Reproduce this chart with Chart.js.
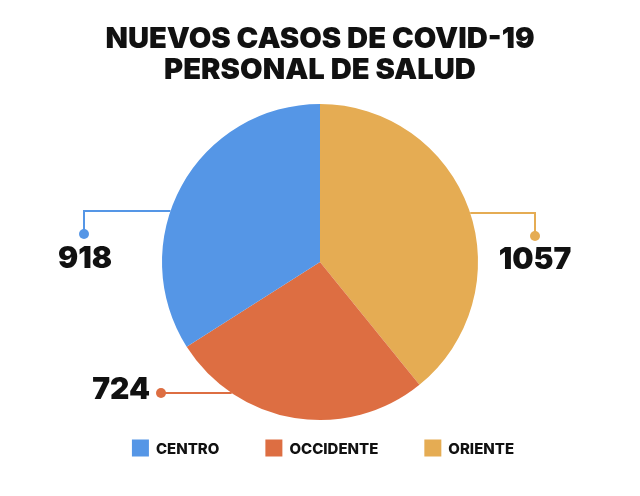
<!DOCTYPE html>
<html>
<head>
<meta charset="utf-8">
<script src="https://cdn.jsdelivr.net/npm/chart.js@4/dist/chart.umd.min.js"></script>
<style>
  html, body { margin: 0; padding: 0; background: #fff; }
  #wrap { width: 640px; height: 496px; position: relative; }
</style>
</head>
<body>
<div id="wrap"><canvas id="pieChart"></canvas></div>
<script>
// data
const titleLines = ["NUEVOS CASOS DE COVID-19", "PERSONAL DE SALUD"];
const regions = ["CENTRO", "OCCIDENTE", "ORIENTE"];
const cases = [918, 724, 1057];
const colors = ["#5596E6", "#DD6E42", "#E5AC53"];

// draw order around the pie: oriente first from 12 o'clock, clockwise
const order = [2, 1, 0];

const heavy = "'Inter', 'Lato', 'DejaVu Sans', sans-serif";

// leader line setup per region: y offset from pie centre, side, elbow x, dot y, label box
const leaders = {
    0: { dy: -51, side: "left", elbowX: 84, dotY: 234, labelX: 85, labelY: 259, align: "center" },
    1: { dy: 131, side: "left", elbowX: 161, dotY: 393, labelX: 150, labelY: 390, align: "right" },
    2: { dy: -49, side: "right", elbowX: 535, dotY: 236, labelX: 535, labelY: 260, align: "center" }
};

const overlay = {
    id: "overlay",
    afterDraw(chart) {
        const c = chart.ctx;
        const meta = chart.getDatasetMeta(0);
        const arc = meta.data[0];
        const cx = arc.x, cy = arc.y, r = arc.outerRadius;

        // title
        c.save();
        c.fillStyle = "#111";
        c.textAlign = "center";
        c.textBaseline = "alphabetic";
        c.font = "900 29px " + heavy;
        let w = c.measureText(titleLines[0]).width;
        let size = 29 * 430 / w;
        c.font = "900 " + size.toFixed(1) + "px " + heavy;
        c.fillText(titleLines[0], 320, 48);
        c.fillText(titleLines[1], 320, 79);
        c.restore();

        // leader lines + value labels
        meta.data.forEach((el, i) => {
            const idx = order[i];
            const L = leaders[idx];
            const y = cy + L.dy;
            const half = Math.sqrt(r * r - L.dy * L.dy);
            const edgeX = L.side === "left" ? cx - half : cx + half;
            c.save();
            c.strokeStyle = colors[idx];
            c.fillStyle = colors[idx];
            c.lineWidth = 2;
            c.beginPath();
            c.moveTo(edgeX, y);
            c.lineTo(L.elbowX, y);
            c.lineTo(L.elbowX, L.dotY);
            c.stroke();
            c.beginPath();
            c.arc(L.elbowX, L.dotY, 5, 0, Math.PI * 2);
            c.fill();

            c.fillStyle = "#111";
            c.font = "900 30px " + heavy;
            c.textAlign = L.align;
            c.textBaseline = "middle";
            c.fillText(String(cases[idx]), L.labelX, L.labelY);
            c.restore();
        });

        // legend
        c.save();
        c.font = "800 15px " + heavy;
        c.textBaseline = "middle";
        c.textAlign = "left";
        const box = 17, gapText = 7, gapItem = 46;
        const widths = regions.map(t => c.measureText(t).width);
        let total = widths.reduce((a, b) => a + b, 0) + regions.length * (box + gapText) + gapItem * (regions.length - 1);
        let x = 323 - total / 2;
        const ly = 448;
        regions.forEach((t, i) => {
            c.fillStyle = colors[i];
            c.fillRect(x, ly - box / 2, box, box);
            c.fillStyle = "#111";
            c.fillText(t, x + box + gapText, ly + 1);
            x += box + gapText + widths[i] + gapItem;
        });
        c.restore();
    }
};

const ctx = document.getElementById("pieChart").getContext("2d");
const chart = new Chart(ctx, {
    type: "pie",
    data: {
        labels: order.map(i => regions[i]),
        datasets: [{
            data: order.map(i => cases[i]),
            backgroundColor: order.map(i => colors[i]),
            borderWidth: 0
        }]
    },
    options: {
        responsive: true,
        maintainAspectRatio: false,
        animation: false,
        layout: {
            padding: { top: 104, bottom: 76, left: 0, right: 0 }
        },
        plugins: {
            legend: { display: false },
            title: { display: false },
            tooltip: { enabled: false }
        }
    },
    plugins: [overlay]
});
</script>
</body>
</html>
